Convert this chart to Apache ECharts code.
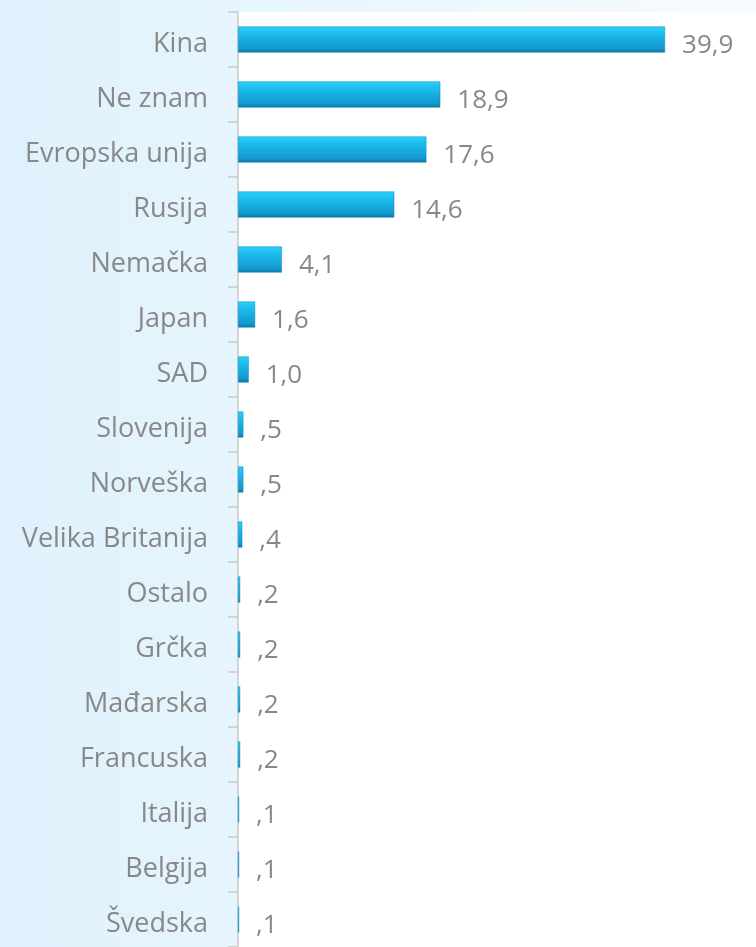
<!DOCTYPE html>
<html>
<head>
<meta charset="utf-8">
<script src="https://cdn.jsdelivr.net/npm/echarts@6/dist/echarts.min.js"></script>
<style>
  html, body { margin: 0; padding: 0; }
  #chart { width: 756px; height: 947px; }
</style>
</head>
<body>
<div id="chart"></div>
<script>
  var categories = ['Kina', 'Ne znam', 'Evropska unija', 'Rusija', 'Nemačka', 'Japan', 'SAD', 'Slovenija', 'Norveška',
    'Velika Britanija', 'Ostalo', 'Grčka', 'Mađarska', 'Francuska', 'Italija', 'Belgija', 'Švedska'];
  var values = [39.9, 18.9, 17.6, 14.6, 4.1, 1.6, 1.0, 0.5, 0.5, 0.4, 0.2, 0.2, 0.2, 0.2, 0.1, 0.1, 0.1];

  // 39,9 -> "39,9", 0,5 -> ",5"
  function fmt(v) {
    return v.toFixed(1).replace('.', ',').replace(/^0/, '');
  }

  var chart = echarts.init(document.getElementById('chart'));
  chart.setOption({
    animation: false,
    backgroundColor: {
      type: 'linear', x: 0, y: 0, x2: 1, y2: 0,
      colorStops: [
        {offset: 0, color: '#def1fc'},
        {offset: 0.3, color: '#e6f5fd'},
        {offset: 1, color: '#f7fbfe'}
      ]
    },
    grid: {
      show: true,
      backgroundColor: '#ffffff',
      borderWidth: 0,
      left: 238,
      top: 12,
      right: 0,
      height: 942,
      containLabel: false
    },
    xAxis: {
      type: 'value',
      min: 0,
      max: 48.4,
      show: false
    },
    yAxis: {
      type: 'category',
      inverse: true,
      data: categories,
      axisLine: {show: true, lineStyle: {color: '#c9c9c9', width: 1.5}},
      axisTick: {show: true, length: 10, lineStyle: {color: '#c9c9c9', width: 1.5}},
      axisLabel: {
        margin: 30,
        color: '#888888',
        fontSize: 27,
        fontFamily: 'Open Sans',
        verticalAlign: 'top',
        lineHeight: 9
      }
    },
    series: [
      {
        type: 'bar',
        data: values,
        barWidth: 26,
        itemStyle: {
          borderColor: '#0d86b6',
          borderWidth: 0.5,
          color: {
            type: 'linear', x: 0, y: 0, x2: 0, y2: 1,
            colorStops: [
              {offset: 0, color: '#2ad2fb'},
              {offset: 0.2, color: '#1fc2f0'},
              {offset: 0.55, color: '#17abdf'},
              {offset: 0.85, color: '#1299cc'},
              {offset: 1, color: '#0b76a2'}
            ]
          }
        },
        label: {
          show: true,
          position: 'right',
          distance: 17,
          offset: [0, 6],
          color: '#888888',
          fontSize: 26,
          fontFamily: 'Open Sans',
          formatter: function (p) {
            return fmt(p.value);
          }
        }
      }
    ]
  });
</script>
</body>
</html>
